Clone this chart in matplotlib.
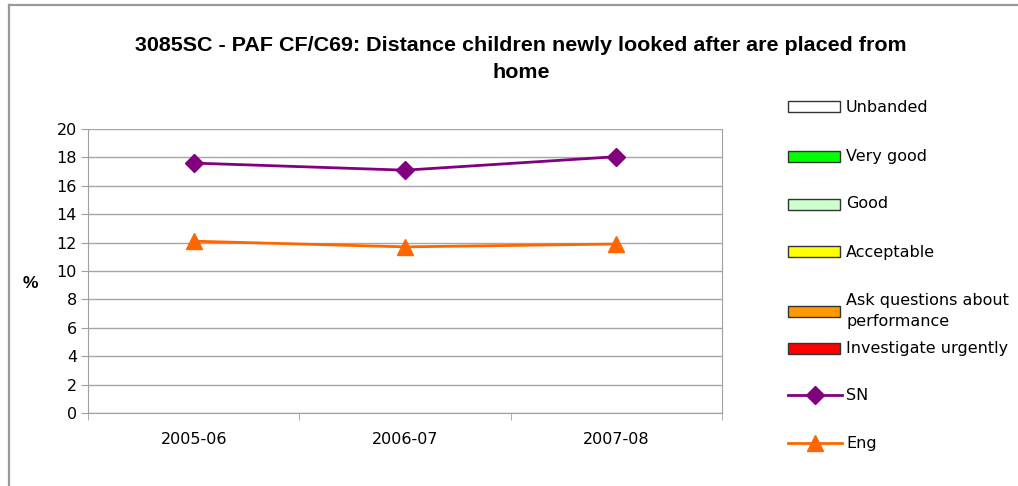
import matplotlib
matplotlib.use("Agg")
import matplotlib.pyplot as plt
import numpy as np
from matplotlib.patches import Rectangle
from matplotlib.lines import Line2D

categories = ["2005-06", "2006-07", "2007-08"]
sn_values = [17.6, 17.1, 18.05]
eng_values = [12.1, 11.7, 11.9]
yticks = [0, 2, 4, 6, 8, 10, 12, 14, 16, 18, 20]
band_labels = ["Unbanded", "Very good", "Good", "Acceptable",
               "Ask questions about\nperformance", "Investigate urgently"]
band_colors = ["#FFFFFF", "#00FF00", "#CCFFCC", "#FFFF00", "#FF9900", "#FF0000"]
title = "3085SC - PAF CF/C69: Distance children newly looked after are placed from\nhome"

W, H = 1018, 486
fig = plt.figure(figsize=(W / 100, H / 100), dpi=100)
fig.patch.set_facecolor("white")

# outer chart border
fig.add_artist(Line2D([9 / W, 9 / W], [0, 1 - 5 / H], color="#999999", lw=1.6))
fig.add_artist(Line2D([9 / W, 1], [1 - 5 / H, 1 - 5 / H], color="#999999", lw=1.6))

left, right, top, bottom = 88, 722, 129, 413
ax = fig.add_axes([left / W, 1 - bottom / H, (right - left) / W, (bottom - top) / H])

x = np.arange(len(categories))
ax.plot(x, sn_values, color="#800080", lw=2, marker="D", ms=9, zorder=3)
ax.plot(x, eng_values, color="#FF6600", lw=2, marker="^", ms=12, zorder=3)

ax.set_xlim(-0.5, len(categories) - 0.5)
ax.set_ylim(0, 20)
ax.set_yticks(yticks)
ax.set_xticks(x)
ax.set_xticklabels(categories)
ax.set_xticks(np.arange(len(categories) + 1) - 0.5, minor=True)
ax.tick_params(axis="x", which="major", length=0, pad=14, labelsize=11.5)
ax.tick_params(axis="x", which="minor", length=5, color="#A0A0A0", direction="out")
ax.tick_params(axis="y", length=5, color="#A0A0A0", direction="out", labelsize=11.5, pad=3)
ax.yaxis.grid(True, color="#A6A6A6", lw=1)
ax.set_axisbelow(True)
for s in ["left", "bottom", "right"]:
    ax.spines[s].set_color("#A0A0A0")
ax.spines["top"].set_visible(False)

fig.text(30 / W, 1 - 283 / H, "%", fontsize=12.5, fontweight="bold", ha="center", va="center",
         family="Liberation Sans")
fig.text(521 / W, 1 - 59 / H, title, fontsize=15.45, fontweight="bold", ha="center", va="center",
         family="Liberation Sans", linespacing=1.5)

# legend
bx0, bx1 = 788, 840
tx = 846
ys = [107, 156, 204, 252, 311, 348]
for lab, col, yc in zip(band_labels, band_colors, ys):
    fig.add_artist(Rectangle((bx0 / W, 1 - (yc + 5.5) / H), (bx1 - bx0) / W, 11 / H,
                             facecolor=col, edgecolor="#333333", lw=1))
    fig.text(tx / W, 1 - yc / H, lab, fontsize=11.5, ha="left", va="center", linespacing=1.45)

for lab, col, mk, ms, yc in [("SN", "#800080", "D", 9, 395), ("Eng", "#FF6600", "^", 12, 443)]:
    fig.add_artist(Line2D([bx0 / W, (bx1 + 2) / W], [1 - yc / H, 1 - yc / H], color=col, lw=2))
    fig.add_artist(Line2D([(bx0 + bx1 + 2) / 2 / W], [1 - yc / H], color=col, marker=mk, ms=ms))
    fig.text(tx / W, 1 - yc / H, lab, fontsize=11.5, ha="left", va="center")

fig.savefig("out.png", dpi=100)
